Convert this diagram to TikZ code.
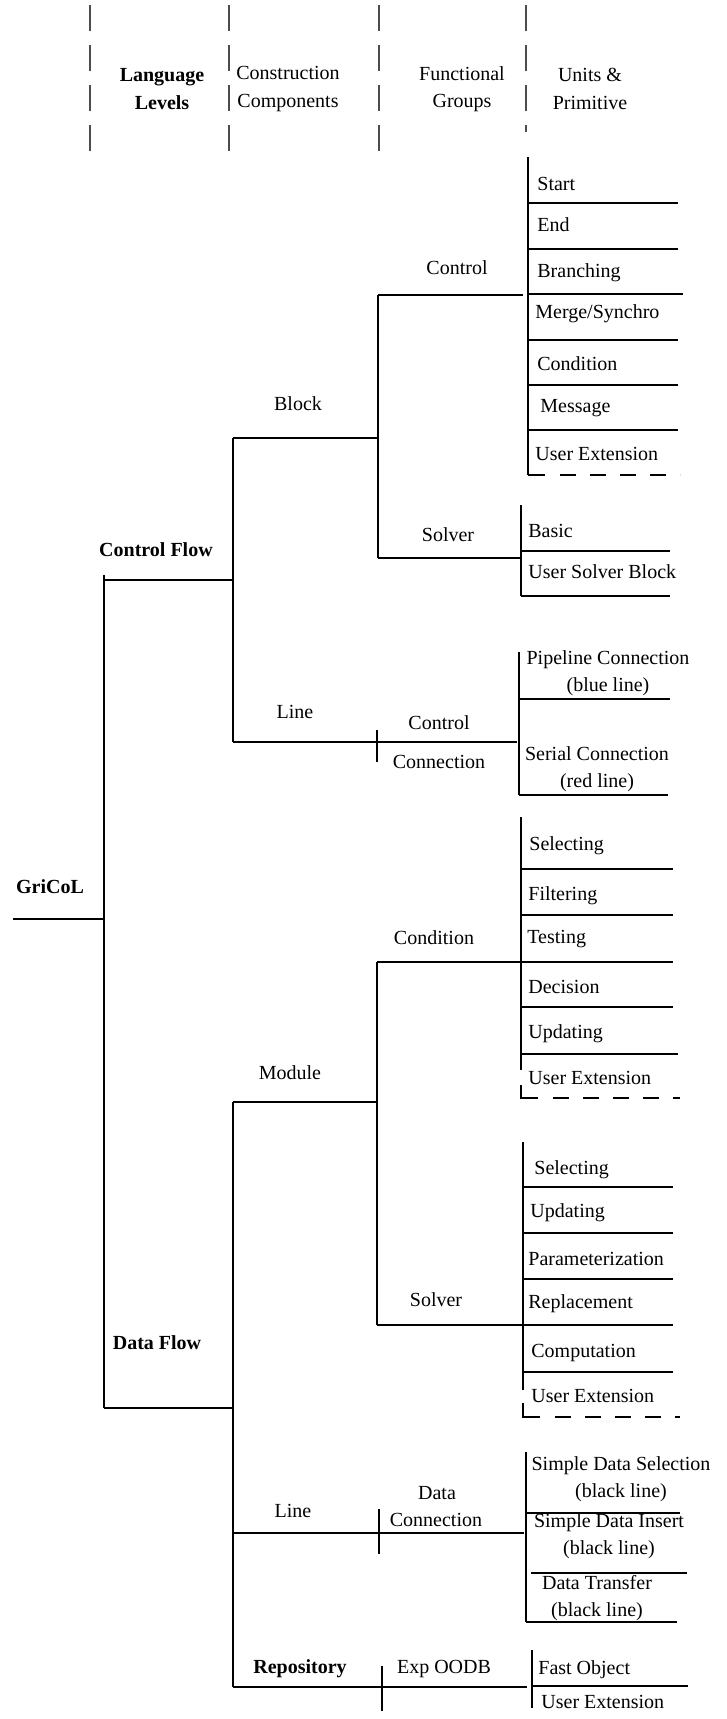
\documentclass[tikz,border=0pt]{standalone}
\usepackage{fontspec}
\setmainfont{Liberation Serif}
\usetikzlibrary{calc}
\tikzset{
  heavy/.style={line width=1.35pt},
  light/.style={line width=0.7pt},
  header/.style={line width=0.75pt, draw=black!70, dash pattern=on 13pt off 7pt},
  extline/.style={line width=1.35pt, dash pattern=on 8pt off 7pt},
  txt/.style={inner sep=0pt, align=center, font=\fontsize{10}{13.75}\selectfont},
  btxt/.style={txt, font=\fontsize{10}{13.75}\selectfont\bfseries},
  utxt/.style={txt, anchor=west, text height=7pt, text depth=2pt},
}
% one primitive separator: x-start, y, x-end
\newcommand{\usep}[3]{ \draw[heavy] ( #1 , #2 ) -- ( #3 , #2 );}
% dashed user extension end: x, corner top, y, x-end
\newcommand{\uext}[4]{ \draw[heavy] ( #1 , #2 ) -- ( #1 , #3 ) -- ( #1+17 , #3 ); \draw[extline] ( #1+32 , #3 ) -- ( #4 , #3 );}

\begin{document}
\begin{tikzpicture}[x=0.5pt,y=-0.5pt]
        \useasboundingbox (0,0) rectangle (727,1719);

        % header
        \draw[header] (90,5) -- (90,152);
        \draw[header] (229,5) -- (229,152);
        \draw[header] (379,5) -- (379,152);
        \draw[header] (526,5) -- (526,132);
        \node[btxt] (hlevel) at (162,89) {Language\\Levels};
        \node[txt] (hcomp) at (288,89) {Construction\\Components};
        \node[txt] (hgroup) at (462,89) {Functional\\Groups};
        \node[txt] (hunit) at (590,89) {Units \&\\Primitive};

        % root
        \node[btxt] (gricol) at (50,887) {GriCoL};
        \coordinate (rootl) at (13,919);
        \coordinate (rootr) at (104,919);
        \coordinate (trunk) at (104,575);
        \coordinate (cflow) at (104,580);
        \coordinate (dflow) at (104,1408);
        \draw[heavy] (rootl) -- (rootr);
        \draw[heavy] (trunk) -- (dflow);

        % control flow
        \node[btxt] (cflowlab) at (156,550) {Control Flow};
        \coordinate (cflowr) at (233,580);
        \coordinate (block) at (233,438);
        \coordinate (cline) at (233,742);
        \draw[heavy] (cflow) -- (cflowr);
        \draw[light] (block) -- (cline);

        % block
        \node[txt] (blocklab) at (298,404) {Block};
        \coordinate (blockr) at (378,438);
        \coordinate (ctrl) at (378,295);
        \coordinate (csolv) at (378,558);
        \coordinate (ctrlr) at (523,295);
        \coordinate (csolvr) at (520,558);
        \draw[light] (block) -- (blockr);
        \draw[light] (ctrl) -- (csolv);
        \draw[light] (ctrl) -- (ctrlr);
        \draw[light] (csolv) -- (csolvr);
        \node[txt] (ctrllab) at (457,268) {Control};
        \node[txt] (csolvlab) at (448,535) {Solver};

        % control primitives
        \draw[heavy] (528,157) -- (528,475);
        \usep{528}{203}{678}
        \usep{528}{249}{678}
        \usep{528}{294}{683}
        \usep{528}{340}{678}
        \usep{528}{385}{678}
        \usep{528}{430}{678}
        \uext{528}{475}{475}{680}
        \node[utxt] (ustart) at (537,185) {Start};
        \node[utxt] (uend) at (537,226) {End};
        \node[utxt] (ubranch) at (537,272) {Branching};
        \node[utxt] (umerge) at (535,313) {Merge/Synchro};
        \node[utxt] (ucond) at (537,365) {Condition};
        \node[utxt] (umsg) at (540,407) {Message};
        \node[utxt] (uext1) at (535,455) {User Extension};

        % solver primitives
        \draw[heavy] (521,505) -- (521,596);
        \usep{521}{551}{670}
        \usep{521}{596}{670}
        \node[utxt] (ubasic) at (528,532) {Basic};
        \node[utxt] (usolver) at (528,573) {User Solver Block};

        % control line
        \node[txt] (clinelab) at (295,712) {Line};
        \coordinate (cliner) at (517,742);
        \draw[light] (cline) -- (cliner);
        \draw[light] (377,730) -- (377,762);
        \node[txt] (cconn1) at (439,723) {Control};
        \node[txt] (cconn2) at (439,762) {Connection};
        \draw[heavy] (519,652) -- (519,795);
        \usep{519}{699}{670}
        \usep{519}{795}{668}
        \node[txt] (upipe) at (608,673) {Pipeline Connection\\(blue line)};
        \node[txt] (userial) at (597,769) {Serial Connection\\(red line)};

        % data flow
        \node[btxt] (dflowlab) at (157,1343) {Data Flow};
        \coordinate (dflowr) at (233,1408);
        \coordinate (module) at (233,1102);
        \coordinate (dline) at (233,1533);
        \coordinate (repo) at (233,1687);
        \draw[heavy] (dflow) -- (dflowr);
        \draw[light] (module) -- (dflowr);
        \draw[heavy] (dflowr) -- (repo);

        % module
        \node[txt] (modlab) at (290,1073) {Module};
        \coordinate (moduler) at (377,1102);
        \coordinate (cond) at (377,962);
        \coordinate (dsolv) at (377,1325);
        \coordinate (condr) at (522,962);
        \coordinate (dsolvr) at (523,1325);
        \draw[light] (module) -- (moduler);
        \draw[light] (cond) -- (dsolv);
        \draw[light] (cond) -- (condr);
        \draw[light] (dsolv) -- (dsolvr);
        \node[txt] (condlab) at (434,938) {Condition};
        \node[txt] (dsolvlab) at (436,1300) {Solver};

        % condition primitives
        \draw[heavy] (521,817) -- (521,1070);
        \usep{521}{869}{673}
        \usep{521}{915}{673}
        \usep{521}{962}{673}
        \usep{521}{1007}{673}
        \usep{521}{1054}{678}
        \uext{521}{1085}{1098}{680}
        \node[utxt] (csel) at (529,845) {Selecting};
        \node[utxt] (cfilt) at (528,895) {Filtering};
        \node[utxt] (ctest) at (527,938) {Testing};
        \node[utxt] (cdec) at (528,988) {Decision};
        \node[utxt] (cupd) at (528,1033) {Updating};
        \node[utxt] (cext) at (528,1079) {User Extension};

        % data solver primitives
        \draw[heavy] (523,1142) -- (523,1390);
        \usep{523}{1187}{673}
        \usep{523}{1233}{673}
        \usep{523}{1279}{673}
        \usep{523}{1325}{673}
        \usep{523}{1372}{673}
        \uext{523}{1403}{1417}{680}
        \node[utxt] (ssel) at (534,1169) {Selecting};
        \node[utxt] (supd) at (530,1212) {Updating};
        \node[utxt] (spar) at (528,1260) {Parameterization};
        \node[utxt] (srep) at (528,1303) {Replacement};
        \node[utxt] (scomp) at (531,1352) {Computation};
        \node[utxt] (sext) at (531,1397) {User Extension};

        % data line
        \node[txt] (dlinelab) at (293,1511) {Line};
        \coordinate (dliner) at (524,1533);
        \draw[light] (dline) -- (dliner);
        \draw[light] (379,1509) -- (379,1554);
        \node[txt] (dconn1) at (437,1493) {Data};
        \node[txt] (dconn2) at (436,1520) {Connection};
        \draw[heavy] (526,1452) -- (526,1622);
        \usep{526}{1513}{680}
        \usep{531}{1573}{687}
        \usep{526}{1622}{677}
        \node[txt] (dsel) at (621,1479) {Simple Data Selection\\(black line)};
        \node[txt] (dins) at (609,1536) {Simple Data Insert\\(black line)};
        \node[txt] (dtrans) at (597,1598) {Data Transfer\\(black line)};

        % repository
        \node[btxt] (repolab) at (300,1669) {Repository};
        \coordinate (repor) at (527,1687);
        \draw[heavy] (repo) -- (repor);
        \draw[light] (382,1666) -- (382,1711);
        \node[txt] (oodb) at (444,1669) {Exp OODB};
        \draw[heavy] (532,1650) -- (532,1708);
        \usep{532}{1686}{688}
        \node[utxt] (rfast) at (538,1669) {Fast Object};
        \node[utxt] (rext) at (541,1703) {User Extension};

    \end{tikzpicture}
\end{document}
